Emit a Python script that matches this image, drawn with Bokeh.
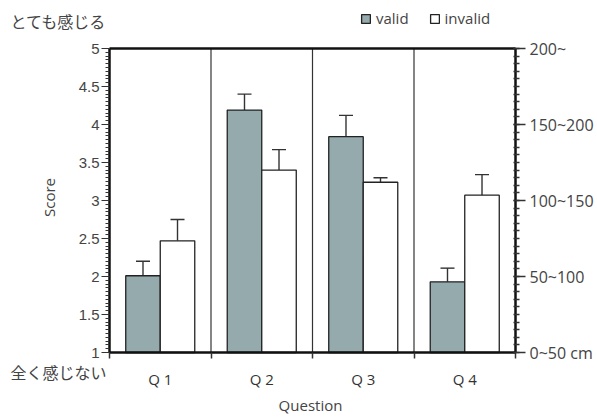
from bokeh.plotting import figure
from bokeh.models import (ColumnDataSource, Range1d, FixedTicker, LinearAxis,
                          Whisker, TeeHead, Legend, LegendItem, Label)
from bokeh.transform import dodge
from bokeh.embed import file_html
from bokeh.resources import INLINE
import numpy as np

questions = ["Q 1", "Q 2", "Q 3", "Q 4"]
valid_mean = [2.01, 4.19, 3.84, 1.93]
valid_err = [0.19, 0.21, 0.28, 0.18]
invalid_mean = [2.47, 3.40, 3.24, 3.07]
invalid_err = [0.28, 0.27, 0.06, 0.27]
score_ticks = [1, 1.5, 2, 2.5, 3, 3.5, 4, 4.5, 5]
right_ticks = [1, 2, 3, 4, 5]
right_labels = ["0~50 cm", "50~100", "100~150", "150~200", "200~"]

# ---- layout (pixels) ----
W, H = 596, 416
BOX_L, BOX_R, BOX_T, BOX_B = 109, 515, 48, 352
Y0, Y1 = score_ticks[0], score_ticks[-1]
NC = len(questions)
xpx = (BOX_R - BOX_L) / NC
ypx = (BOX_B - BOX_T) / (Y1 - Y0)
x_range = Range1d(-BOX_L / xpx, (W - BOX_L) / xpx)
y_range = Range1d(Y0 - (H - BOX_B) / ypx, Y1 + BOX_T / ypx)

idx = np.arange(NC)
centers = idx + 0.5
src = ColumnDataSource(dict(
    x=centers,
    vm=valid_mean, vtop=np.array(valid_mean) + np.array(valid_err),
    im=invalid_mean, itop=np.array(invalid_mean) + np.array(invalid_err),
))

p = figure(width=W, height=H, output_backend="svg", toolbar_location=None,
           x_range=x_range, y_range=y_range, x_axis_type=None, y_axis_type=None,
           min_border=0, background_fill_color="white", border_fill_color="white")
p.outline_line_color = None
p.xgrid.visible = False
p.ygrid.visible = False

# category separators
bounds_x = idx[1:].astype(float)
p.segment(x0=bounds_x, y0=Y0, x1=bounds_x, y1=Y1, line_color="#333", line_width=1.2)

BW = 0.34
vr = p.vbar(x=dodge("x", -BW / 2), top="vm", bottom=Y0, width=BW, source=src,
            fill_color="#95aaac", line_color="#222", line_width=1.3)
ir = p.vbar(x=dodge("x", BW / 2), top="im", bottom=Y0, width=BW, source=src,
            fill_color="white", line_color="#222", line_width=1.3)

for col_lo, col_hi, off in (("vm", "vtop", -BW / 2), ("im", "itop", BW / 2)):
    p.add_layout(Whisker(base=dodge("x", off), lower=col_lo, upper=col_hi, source=src,
                         dimension="height", line_color="#333", line_width=1.4,
                         upper_head=TeeHead(size=14, line_color="#333", line_width=1.4),
                         lower_head=None))

def style(ax, width=2.5):
    ax.axis_line_width = width
    ax.axis_line_color = "#111"
    ax.major_tick_line_color = "#333"
    ax.minor_tick_line_color = "#333"

# bottom axis
xa = LinearAxis(fixed_location=Y0, bounds=(0, NC),
                ticker=FixedTicker(ticks=list(centers), minor_ticks=list(np.arange(NC + 1.0))))
style(xa)
xa.major_label_overrides = {float(c): q for c, q in zip(centers, questions)}
xa.major_tick_line_color = None
xa.major_tick_out = 0
xa.minor_tick_out = 6
xa.minor_tick_in = 0
xa.minor_tick_line_width = 1.5
xa.major_label_standoff = 10
xa.major_label_text_font = "Open Sans"
xa.major_label_text_font_size = "15px"
xa.major_label_text_color = "#333"
p.add_layout(xa, "below")

# top border
ta = LinearAxis(fixed_location=Y1, bounds=(0, NC), ticker=FixedTicker(ticks=[]))
style(ta)
p.add_layout(ta, "above")

# left axis
ya = LinearAxis(fixed_location=0, bounds=(Y0, Y1),
                ticker=FixedTicker(ticks=score_ticks,
                                   minor_ticks=[round(Y0 + 0.05 * k, 2) for k in range(81)]))
style(ya)
ya.major_tick_out = 8
ya.major_tick_in = 0
ya.minor_tick_out = 4
ya.minor_tick_in = 0
ya.major_label_standoff = 2
ya.major_label_text_font = "Liberation Sans"
ya.major_label_text_font_size = "15px"
ya.major_label_text_color = "#444"
p.add_layout(ya, "left")

# right axis
ra = LinearAxis(fixed_location=NC, bounds=(Y0, Y1),
                ticker=FixedTicker(ticks=right_ticks,
                                   minor_ticks=[round(Y0 + 0.1 * k, 2) for k in range(41)]))
style(ra)
ra.major_label_overrides = {t: l for t, l in zip(right_ticks, right_labels)}
ra.major_tick_out = 10
ra.major_tick_in = 2
ra.minor_tick_out = 4
ra.minor_tick_in = 2
ra.minor_tick_line_width = 1.5
ra.major_tick_line_width = 1.5
ra.major_label_standoff = 4
ra.major_label_text_font = "Open Sans"
ra.major_label_text_font_size = "16px"
ra.major_label_text_color = "#444"
p.add_layout(ra, "right")

legend = Legend(items=[LegendItem(label="valid", renderers=[vr]),
                       LegendItem(label="invalid", renderers=[ir])],
                orientation="horizontal", location=(360, H - 28),
                glyph_width=11, glyph_height=11, label_standoff=5, spacing=20,
                padding=0, margin=0, border_line_color=None, background_fill_alpha=0,
                label_text_font="Open Sans", label_text_font_size="15px",
                label_text_color="#444", label_height=14)
p.add_layout(legend)

jp = "Noto Sans CJK JP"
p.add_layout(Label(x=10, y=H - 20, x_units="screen", y_units="screen", text="とても感じる",
                   text_font=jp, text_font_size="16px", text_color="#444",
                   text_baseline="middle", text_align="left"))
p.add_layout(Label(x=10, y=H - 371, x_units="screen", y_units="screen", text="全く感じない",
                   text_font=jp, text_font_size="16px", text_color="#444",
                   text_baseline="middle", text_align="left"))
p.add_layout(Label(x=48, y=H - 197, x_units="screen", y_units="screen", text="Score",
                   angle=np.pi / 2, text_font="Open Sans", text_font_size="15px",
                   text_color="#444", text_baseline="middle", text_align="center"))
p.add_layout(Label(x=310, y=H - 404, x_units="screen", y_units="screen", text="Question",
                   text_font="Open Sans", text_font_size="15px", text_color="#444",
                   text_baseline="middle", text_align="center"))

open("out.html", "w").write(file_html(p, INLINE))
